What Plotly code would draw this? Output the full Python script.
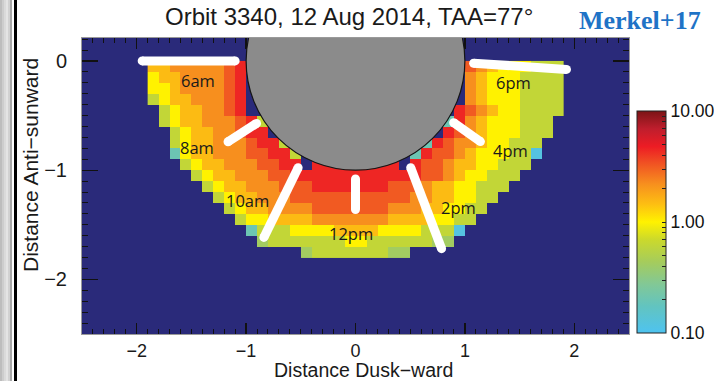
import numpy as np
import plotly.graph_objects as go

# ---------------- data ----------------
# grid of 0.1 x 0.1 cells; x centres -1.85..1.85 (38), y centres -0.05..-1.75 (18)
X_CENTERS = [round(-1.85 + 0.1 * j, 2) for j in range(38)]
Y_CENTERS = [round(-0.05 - 0.1 * k, 2) for k in range(18)]

# colour level code -> value (colour-bar units)
LEVEL_VALUES = [0.12, 0.2, 0.3, 0.42, 0.62, 1.0, 1.5, 2.2, 3.2, 4.5]

# one string per row ('.' = no data), codes index LEVEL_VALUES
ROWS = [
    "667777789" + "." * 20 + "876555444",
    "566777789" + "." * 20 + "765554444",
    "556777789" + "." * 20 + "765554444",
    "456677789" + "." * 20 + "765554444",
    "." + "45667789" + "." * 19 + "9" + "876554444",
    "." + "456677789" + "4" + "." * 16 + "1" + "9" + "76555444" + ".",
    ".." + "456677899" + "." * 16 + "9" + "876555444" + ".",
    ".." + "4566777899" + "4" + "." * 12 + "1" + "9" + "877655444" + "..",
    ".." + "15667778899" + "4" + "." * 10 + "1" + "98876555440" + "..",
    "..." + "45667778899" + "." + "99999999" + "." + "98876655444" + "...",
    "...." + "4566777889" + "9999999999" + "9887655444" + "....",
    "....." + "456677788" + "8999999988" + "876655444" + ".....",
    "......" + "45667778" + "8888888888" + "77665544" + "......",
    "......." + "4566777" + "7888888877" + "7665544" + ".......",
    "........" + "455666" + "6777777766" + "665544" + "........",
    "........." + "14445" + "5556666555" + "54440" + ".........",
    ".........." + "3444" + "4444554444" + "4433" + "..........",
    ".............." + "3444444433" + "..............",
]

# local-time marker lines: angle (deg) and radius of inner / outer ends
LT_LINE_NAMES = ["6am", "8am", "10am", "12pm", "2pm", "4pm", "6pm"]
LT_LINE_ANG_IN = [180.0, -147.7, -118.2, -90.0, -62.7, -32.2, -1.1]
LT_LINE_ANG_OUT = [180.0, -147.6, -117.4, -90.0, -65.4, -32.9, -2.3]
LT_LINE_R_IN = [1.10, 1.07, 1.11, 1.08, 1.10, 1.06, 1.08]
LT_LINE_R_OUT = [1.95, 1.38, 1.82, 1.36, 1.89, 1.36, 1.93]

# local-time labels: radius and angle (deg)
LT_LABEL_R = [1.45, 1.65, 1.62, 1.58, 1.64, 1.64, 1.46]
LT_LABEL_ANG = [-173.0, -151.4, -127.7, -91.5, -54.9, -30.0, -7.9]

CB_TICK_VALUES = [0.1, 0.2, 0.3, 0.4, 0.5, 0.6, 0.7, 0.8, 0.9, 1.0,
                  2, 3, 4, 5, 6, 7, 8, 9, 10]
CB_TICK_LABELS = {0.1: "0.10", 1.0: "1.00", 10: "10.00"}

X_TICKS = [-2, -1, 0, 1, 2]
Y_TICKS = [-2, -1, 0]

# ---------------- figure ----------------
z = [[np.log10(LEVEL_VALUES[int(c)]) if c != "." else None for c in row]
     for row in ROWS]

colorscale = [
    [0.00, "#4ec3f0"], [0.12, "#62c4c0"], [0.22, "#82c896"],
    [0.32, "#a5cc5c"], [0.42, "#cbd92c"], [0.50, "#fff200"],
    [0.58, "#fdbf12"], [0.67, "#f7901e"], [0.77, "#f04e23"],
    [0.84, "#ed1c24"], [0.92, "#bf1e2d"], [1.00, "#7b1416"],
]

fig = go.Figure()
fig.add_trace(go.Heatmap(
    x=X_CENTERS, y=Y_CENTERS, z=z, zmin=-1, zmax=1,
    colorscale=colorscale, hoverinfo="skip", zsmooth=False,
    colorbar=dict(
        thickness=29, lenmode="pixels", len=222,
        x=(637 - 82) / 547, xanchor="left", xpad=0, ypad=0,
        y=(334 - 222) / 296, yanchor="middle",
        outlinewidth=1, outlinecolor="#222",
        tickmode="array",
        tickvals=[float(np.log10(v)) for v in CB_TICK_VALUES],
        ticktext=[CB_TICK_LABELS.get(v, "") for v in CB_TICK_VALUES],
        ticks="inside", ticklen=4, tickcolor="#222",
        tickfont=dict(family="Liberation Sans", size=17.5, color="#111"),
        ticklabelposition="outside",
    ),
))

# white local-time lines
for name, ai, ao, ri, ro in zip(LT_LINE_NAMES, LT_LINE_ANG_IN, LT_LINE_ANG_OUT,
                                LT_LINE_R_IN, LT_LINE_R_OUT):
    xs = [ri * np.cos(np.radians(ai)), ro * np.cos(np.radians(ao))]
    ys = [ri * np.sin(np.radians(ai)), ro * np.sin(np.radians(ao))]
    fig.add_trace(go.Scatter(
        x=xs, y=ys, mode="lines+markers",
        line=dict(color="white", width=9),
        marker=dict(color="white", size=9, line=dict(width=0)),
        hoverinfo="skip", showlegend=False,
    ))

annotations = []
for name, r, a in zip(LT_LINE_NAMES, LT_LABEL_R, LT_LABEL_ANG):
    annotations.append(dict(
        x=r * np.cos(np.radians(a)), y=r * np.sin(np.radians(a)),
        xref="x", yref="y", text=name, showarrow=False,
        xanchor="center", yanchor="middle",
        font=dict(family="Open Sans", size=16.5, color="#1a1a1a"),
    ))

annotations += [
    dict(x=(349 - 82) / 547, y=(334 - 17) / 296, xref="paper", yref="paper",
         text="Orbit 3340, 12 Aug 2014, TAA=77°", showarrow=False,
         xanchor="center", yanchor="middle",
         font=dict(family="Liberation Sans", size=24, color="#1a1a1a")),
    dict(x=(640 - 82) / 547, y=(334 - 20) / 296, xref="paper", yref="paper",
         text="<b>Merkel+17</b>", showarrow=False,
         xanchor="center", yanchor="middle",
         font=dict(family="Liberation Serif", size=26, color="#1f73c6")),
    dict(x=(363 - 82) / 547, y=(334 - 369.5) / 296, xref="paper", yref="paper",
         text="Distance Dusk\u2212ward", showarrow=False,
         xanchor="center", yanchor="middle",
         font=dict(family="Liberation Sans", size=19.5, color="#1a1a1a")),
    dict(x=(30 - 82) / 547, y=(334 - 165) / 296, xref="paper", yref="paper",
         text="Distance Anti\u2212sunward", showarrow=False, textangle=-90,
         xanchor="center", yanchor="middle",
         font=dict(family="Liberation Sans", size=21, color="#1a1a1a")),
]

shapes = [
    dict(type="circle", xref="x", yref="y", x0=-1, x1=1, y0=-1, y1=1,
         fillcolor="#8b8b8b", line=dict(color="#151515", width=1.2),
         layer="above"),
]
# slide border strip on the far left
strip = [(0, 2, "#bdbdbd"), (2, 4, "#cdcdcd"), (4, 6, "#dadada"),
         (6, 8, "#e4e4e4"), (8, 10, "#d2d2d2"), (10, 12, "#a9a9a9"),
         (14, 17, "#000000")]
for p0, p1, col in strip:
    shapes.append(dict(type="rect", xref="paper", yref="paper",
                       x0=(p0 - 82) / 547, x1=(p1 - 82) / 547,
                       y0=-0.2, y1=1.2, fillcolor=col,
                       line=dict(width=0), layer="below"))

axis_common = dict(
    ticks="inside", tickcolor="#111", tickwidth=1.3,
    showline=True, linecolor="#9a9a9a", linewidth=1, mirror="allticks",
    showgrid=False, zeroline=False, automargin=False,
)

fig.update_layout(
    width=714, height=381,
    margin=dict(l=82, r=85, t=38, b=47, autoexpand=False),
    paper_bgcolor="white", plot_bgcolor="#2a2a7a",
    showlegend=False,
    annotations=annotations, shapes=shapes,
    xaxis=dict(range=[-2.5, 2.5], tickmode="array", tickvals=X_TICKS,
               ticklen=11, ticklabelstandoff=0,
               tickfont=dict(family="Liberation Sans", size=18, color="#1a1a1a"),
               minor=dict(dtick=0.1, tick0=0, ticks="inside", ticklen=5,
                          tickcolor="#111", tickwidth=1),
               **axis_common),
    yaxis=dict(range=[-2.5, 0.21], tickmode="array", tickvals=Y_TICKS,
               ticklen=16, ticklabelstandoff=10,
               tickfont=dict(family="Liberation Sans", size=20, color="#1a1a1a"),
               minor=dict(dtick=0.1, tick0=0, ticks="inside", ticklen=6,
                          tickcolor="#111", tickwidth=1),
               **axis_common),
)

fig.write_html(
    "out.html",
    config={"displayModeBar": False, "staticPlot": True},
    post_script="document.body.style.margin='0';"
                "document.body.style.padding='0';"
                "document.documentElement.style.overflow='hidden';",
)
